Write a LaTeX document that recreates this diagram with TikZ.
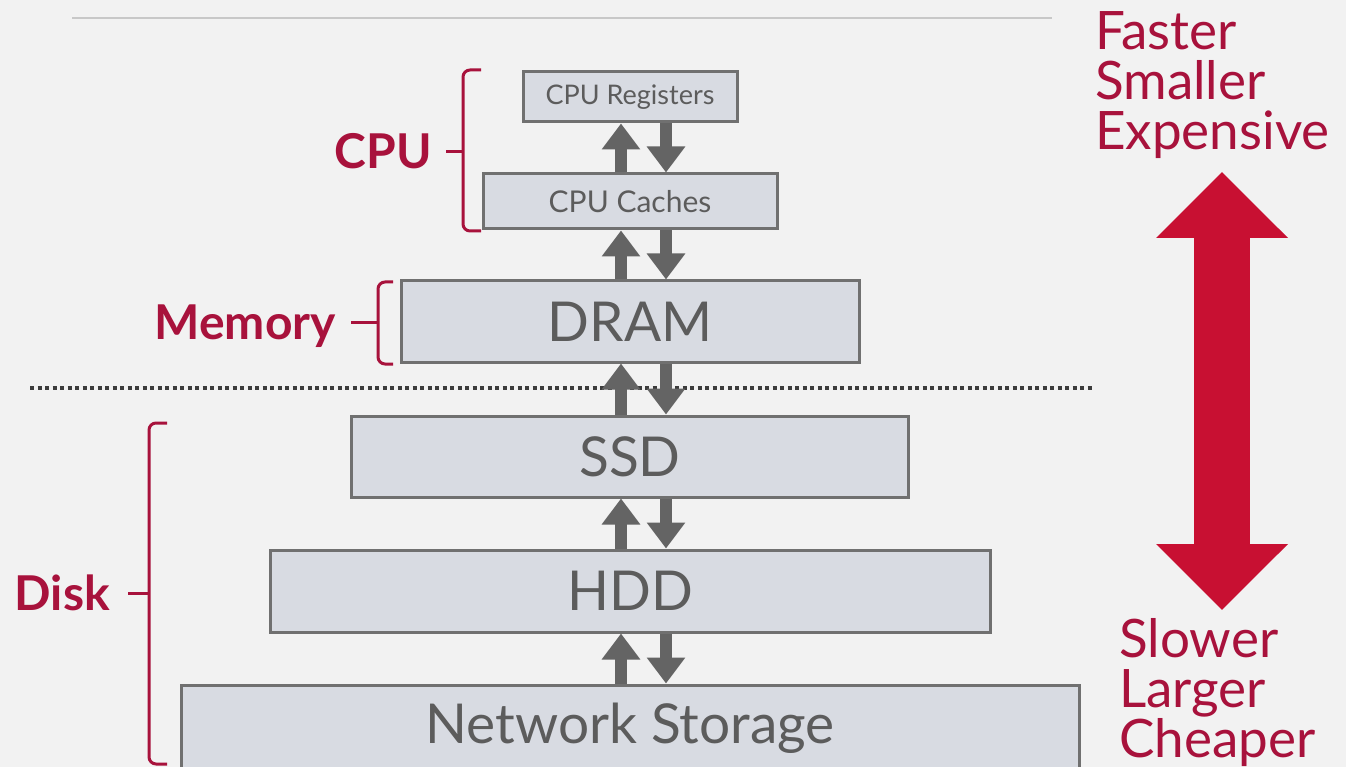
\documentclass[tikz,border=0pt]{standalone}
\usepackage{fontspec}
\setmainfont{Lato}
\usetikzlibrary{arrows.meta}
\definecolor{bg}{RGB}{242,242,242}
\definecolor{boxfill}{RGB}{216,219,226}
\definecolor{boxline}{RGB}{112,112,112}
\definecolor{txtgrey}{RGB}{92,92,92}
\definecolor{arrgrey}{RGB}{100,100,100}
\definecolor{cmured}{RGB}{168,18,60}
\definecolor{bigred}{RGB}{200,16,50}
\definecolor{rulegrey}{RGB}{200,200,200}
\definecolor{dotgrey}{RGB}{60,60,60}
\begin{document}
\begin{tikzpicture}[x=1pt,y=-1pt,
  level/.style={draw=boxline, line width=3pt, fill=boxfill, text=txtgrey, inner sep=0pt, anchor=center},
  updown/.style={draw=arrgrey, line width=12pt, -{Triangle[width=37pt,length=26pt]}},
  grp/.style={text=cmured, font=\bfseries\fontsize{48}{50}\selectfont, inner sep=0pt, anchor=base east},
  bracket/.style={draw=cmured, line width=3pt, rounded corners=7pt},
  tick/.style={draw=cmured, line width=3pt},
  side/.style={text=cmured, font=\fontsize{53}{50}\selectfont, inner sep=0pt, anchor=base west},
  bigarrow/.style={draw=bigred, line width=56pt, {Triangle[width=128pt,length=66pt]}-{Triangle[width=128pt,length=66pt]}}]
\fill[bg] (0,0) rectangle (1346,767);
\useasboundingbox (0,0) rectangle (1346,767);

% separators
\draw[rulegrey, line width=2pt] (72,18) -- (1052,18);
\draw[dotgrey, line width=4pt, dash pattern=on 4pt off 3.5pt] (30,388) -- (1092,388);

% levels
\node[level, minimum width=214pt, minimum height=50pt, font=\fontsize{27}{28}\selectfont] (reg) at (630,97) {CPU Registers};
\node[level, minimum width=294pt, minimum height=55pt, font=\fontsize{30}{32}\selectfont] (cache) at (630,201.5) {CPU Caches};
\node[level, minimum width=458pt, minimum height=81pt, font=\fontsize{55}{60}\selectfont] (dram) at (630,321.5) {DRAM};
\node[level, minimum width=557pt, minimum height=81pt, font=\fontsize{55}{60}\selectfont] (ssd) at (630,456.5) {SSD};
\node[level, minimum width=720pt, minimum height=82pt, font=\fontsize{55}{60}\selectfont] (hdd) at (630,591) {HDD};
\node[level, minimum width=898pt, minimum height=86pt, font=\fontsize{55}{60}\selectfont] (net) at (630,728) {Network Storage};

% transfer arrows
\foreach \up/\lo in {reg/cache, cache/dram, dram/ssd, ssd/hdd, hdd/net}{
  \draw[updown] ([xshift=-9pt]\lo.north) -- ([xshift=-9pt]\up.south);
  \draw[updown] ([xshift=36pt]\up.south) -- ([xshift=36pt]\lo.north);
}

% group brackets and labels
\draw[bracket] (481,70) -- (463,70) -- (463,231) -- (481,231);
\draw[tick] (446,152) -- (463,152);
\node[grp] (cpulbl) at (432,169) {CPU};

\draw[bracket] (393,282) -- (378,282) -- (378,364) -- (393,364);
\draw[tick] (351,322) -- (378,322);
\node[grp] (memlbl) at (336,339) {Memory};

\draw[bracket] (167,423) -- (149,423) -- (149,764) -- (167,764);
\draw[tick] (128,593) -- (149,593);
\node[grp] (disklbl) at (110,610) {Disk};

% right side
\node[side] (f1) at (1095,50) {Faster};
\node[side] (f2) at (1095,100) {Smaller};
\node[side] (f3) at (1095,150) {Expensive};
\coordinate (bigtop) at (1222,172);
\coordinate (bigbot) at (1222,610);
\draw[bigarrow] (bigtop) -- (bigbot);
\node[side] (s1) at (1119,657) {Slower};
\node[side] (s2) at (1119,707) {Larger};
\node[side] (s3) at (1119,757) {Cheaper};
\end{tikzpicture}
\end{document}
